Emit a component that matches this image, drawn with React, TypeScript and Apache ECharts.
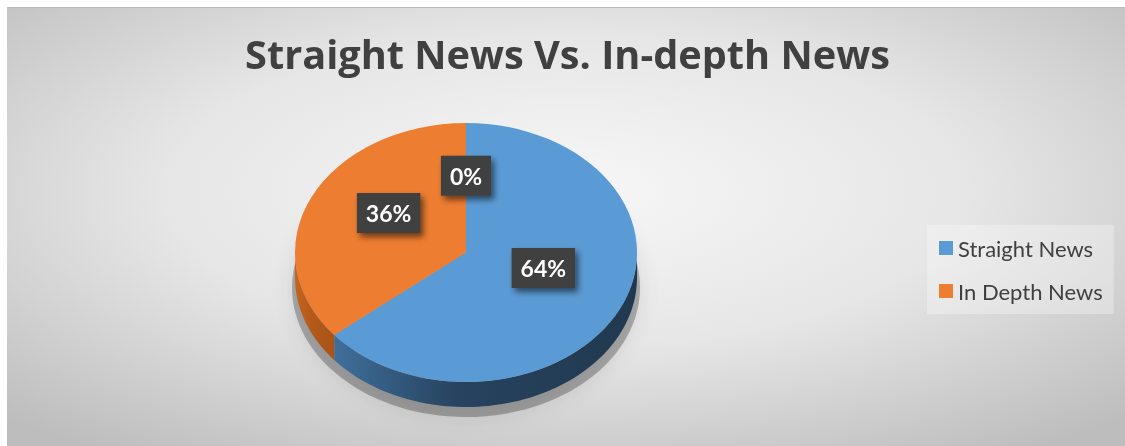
import React, { useEffect, useRef } from "react";
import * as echarts from "echarts";

const titleText = "Straight News Vs. In-depth News";
const categories = ["Straight News", "In Depth News", ""];
const values = [64, 36, 0];
const legendNames = ["Straight News", "In Depth News"];
const topColors = ["#5B9BD5", "#ED7D31", "#A5A5A5"];
const sideColors = [
  ["#3f6f9b", "#27435f", "#213950"],
  ["#c4651f", "#b45a1b", "#a85318"],
  ["#777777", "#666666", "#555555"],
];

const W = 1125;
const H = 446;
const CX = 466;
const CY = 252.5;
const RX = 171;
const RY = 129.5;
const DEPTH = 25;

export default function App() {
  const ref = useRef<HTMLDivElement>(null);
  useEffect(() => {
    if (!ref.current) return;
    const chart = echarts.init(ref.current, undefined, { renderer: "svg" });
    const total = values.reduce((a, b) => a + b, 0);
    const cum: number[] = [];
    let acc = 0;
    values.forEach((v) => {
      cum.push(acc);
      acc += v;
    });

    const makeRender = (k: number) => (params: any, api: any) => {
      const v = api.value(0);
      const a0 = (cum[k] / total) * Math.PI * 2;
      const a1 = a0 + (v / total) * Math.PI * 2;
      const z0 = a0 - Math.PI / 2;
      const z1 = a1 - Math.PI / 2;
      const children: any[] = [];
      const lo = Math.max(z0, 0);
      const hi = Math.min(z1, Math.PI);
      if (hi > lo) {
        const pts: number[][] = [];
        const n = 80;
        for (let i = 0; i <= n; i++) {
          const t = lo + ((hi - lo) * i) / n;
          pts.push([CX + RX * Math.cos(t), CY + RY * Math.sin(t)]);
        }
        for (let i = n; i >= 0; i--) {
          const t = lo + ((hi - lo) * i) / n;
          pts.push([CX + RX * Math.cos(t), CY + RY * Math.sin(t) + DEPTH]);
        }
        children.push({
          type: "polygon",
          shape: { points: pts },
          style: {
            fill: new echarts.graphic.LinearGradient(0, 0, 1, 0, [
              { offset: 0, color: sideColors[k][0] },
              { offset: 0.4, color: sideColors[k][1] },
              { offset: 1, color: sideColors[k][2] },
            ]),
          },
        });
      }
      if (v > 0) {
        children.push({
          type: "sector",
          x: CX,
          y: CY,
          scaleY: RY / RX,
          shape: { cx: 0, cy: 0, r0: 0, r: RX, startAngle: z0, endAngle: z1, clockwise: true },
          style: { fill: topColors[k] },
        });
      }
      const am = (a0 + a1) / 2;
      const lx = CX + 0.5 * RX * Math.sin(am);
      const ly = CY - 12 - 0.5 * RY * Math.cos(am);
      children.push({
        type: "text",
        x: lx,
        y: ly,
        z2: 10,
        style: {
          text: Math.round((v / total) * 100) + "%",
          align: "center",
          verticalAlign: "middle",
          font: "bold 23px Lato",
          fill: "#ffffff",
          backgroundColor: "#404040",
          padding: [9, 9, 8, 9],
          shadowBlur: 6,
          shadowColor: "rgba(0,0,0,0.55)",
          shadowOffsetX: 3,
          shadowOffsetY: 4,
        },
      });
      return { type: "group", children };
    };

    const series = categories.map((name, k) => ({
      type: "custom",
      name,
      coordinateSystem: "none",
      data: [values[k]],
      itemStyle: { color: topColors[k] },
      renderItem: makeRender(k),
      z: 2,
    }));

    chart.setOption({
      animation: false,
      graphic: [
        {
          type: "rect",
          z: -10,
          shape: { x: 7, y: 7, width: W - 7, height: H - 7 },
          style: {
            fill: new echarts.graphic.RadialGradient(0.5, 0.42, 0.72, [
              { offset: 0, color: "#f7f7f7" },
              { offset: 0.5, color: "#e6e6e6" },
              { offset: 1, color: "#bdbdbd" },
            ]),
          },
        },
        {
          type: "line",
          z: -9,
          shape: { x1: 7, y1: 7.5, x2: W, y2: 7.5 },
          style: { stroke: "#bcbcbc", lineWidth: 1 },
        },
        {
          type: "ellipse",
          z: -5,
          shape: { cx: CX, cy: CY + DEPTH + 10, rx: RX + 3, ry: RY },
          style: {
            fill: "rgba(0,0,0,0.26)",
            shadowBlur: 20,
            shadowColor: "rgba(0,0,0,0.4)",
          },
        },
        {
          type: "text",
          x: 567.5,
          y: 54,
          style: {
            text: titleText,
            align: "center",
            verticalAlign: "middle",
            font: "bold 39.7px 'Open Sans'",
            fill: "#404040",
          },
        },
      ],
      legend: {
        data: legendNames,
        orient: "vertical",
        left: 927,
        top: 225,
        padding: [12, 11, 12, 12],
        itemGap: 21,
        itemWidth: 14,
        itemHeight: 14,
        icon: "rect",
        backgroundColor: "rgba(255,255,255,0.3)",
        textStyle: { fontFamily: "Lato", fontSize: 22, color: "#404040", lineHeight: 20 },
      },
      series,
    });
    return () => chart.dispose();
  }, []);
  return (
    <div
      ref={ref}
      style={{ position: "fixed", left: 0, top: 0, width: W, height: H }}
    />
  );
}
